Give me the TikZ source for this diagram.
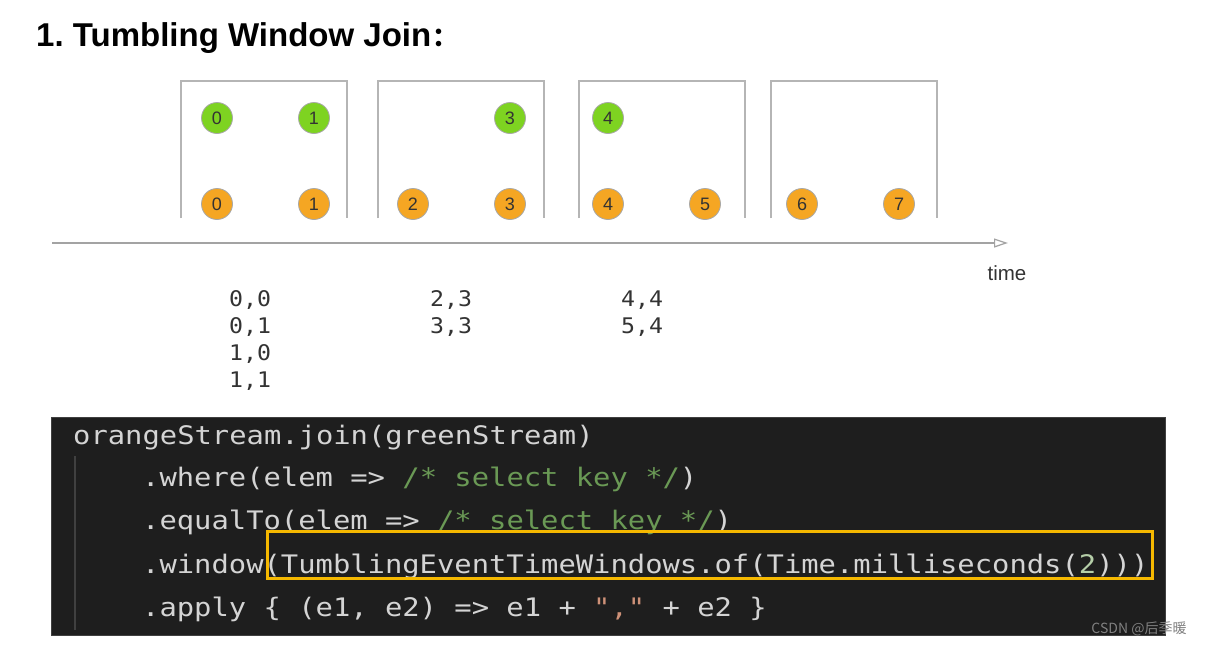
\documentclass[tikz,border=0pt]{standalone}
\usepackage{fontspec}
\setmainfont{Liberation Sans}
\newfontfamily\cjk{Noto Sans CJK SC}
\newfontfamily\codefont[FakeStretch=1.13]{DejaVu Sans Mono}
\newfontfamily\resfont[FakeStretch=1.08]{DejaVu Sans Mono}
\usetikzlibrary{arrows.meta}
\frenchspacing
\definecolor{grn}{HTML}{7ED321}
\definecolor{org}{HTML}{F5A623}
\definecolor{ringgray}{HTML}{A8A8A8}
\definecolor{wingray}{HTML}{B5B5B5}
\definecolor{digit}{HTML}{333333}
\definecolor{codebg}{HTML}{1E1E1E}
\definecolor{codefg}{HTML}{D4D4D4}
\definecolor{cmt}{HTML}{6A9955}
\definecolor{strc}{HTML}{CE9178}
\definecolor{numc}{HTML}{B5CEA8}
\definecolor{hilite}{HTML}{F5B800}
\definecolor{guide}{HTML}{404040}
\definecolor{restext}{HTML}{333333}
\tikzset{
  ball/.style={circle, minimum size=31pt, inner sep=0pt, draw=ringgray, line width=0.8pt,
    text=digit, font=\fontsize{18}{18}\selectfont},
  gball/.style={ball, fill=grn},
  oball/.style={ball, fill=org},
  winbox/.style={draw=wingray, line width=1.3pt},
  axisline/.style={draw=wingray!90!black, line width=1.2pt, -{Triangle[open, length=14pt, width=9pt]}},
  restxt/.style={anchor=base west, inner sep=0pt, text=restext, font=\resfont\fontsize{21.5}{21.5}\selectfont},
  codeline/.style={anchor=base west, inner sep=0pt, text=codefg, font=\codefont\fontsize{25.5}{25.5}\selectfont},
}
\begin{document}
\begin{tikzpicture}[x=1pt,y=-1pt]
\useasboundingbox (0,0) rectangle (1205,646);
\fill[white] (0,0) rectangle (1205,646);

% title
\node[anchor=base west, inner sep=0pt, font=\fontsize{33}{33}\selectfont\bfseries] (title) at (36,46) {1. Tumbling Window Join\hspace{1pt}{\cjk\bfseries\fontsize{26}{26}\selectfont ：}};

% windows
\foreach \x in {181,378,579,771}{
  \draw[winbox] (\x,218) -- (\x,81) -- (\x+166,81) -- (\x+166,218);
}

% green stream
\node[gball] (g0) at (217,118) {0};
\node[gball] (g1) at (314,118) {1};
\node[gball] (g3) at (510,118) {3};
\node[gball] (g4) at (608,118) {4};
% orange stream
\node[oball] (o0) at (217,204) {0};
\node[oball] (o1) at (314,204) {1};
\node[oball] (o2) at (413,204) {2};
\node[oball] (o3) at (510,204) {3};
\node[oball] (o4) at (608,204) {4};
\node[oball] (o5) at (705,204) {5};
\node[oball] (o6) at (802,204) {6};
\node[oball] (o7) at (899,204) {7};

% time axis
\coordinate (t0) at (52,243);
\coordinate (t1) at (1008,243);
\draw[axisline] (t0) -- (t1);
\node[anchor=base, inner sep=0pt, text=digit, font=\fontsize{20.5}{20.5}\selectfont] (time) at (1007,280) {time};

% results
\node[restxt] (r00) at (229,306) {0,0};
\node[restxt] (r01) at (229,333) {0,1};
\node[restxt] (r10) at (229,360) {1,0};
\node[restxt] (r11) at (229,387) {1,1};
\node[restxt] (r23) at (430,306) {2,3};
\node[restxt] (r33) at (430,333) {3,3};
\node[restxt] (r44) at (621,306) {4,4};
\node[restxt] (r54) at (621,333) {5,4};

% code block
\filldraw[fill=codebg, draw=guide, line width=0.8pt] (51,417) rectangle (1165,635);
\draw[guide, line width=1.6pt] (75,456) -- (75,630);
\node[codeline] (c1) at (73,444) {orangeStream.join(greenStream)};
\node[codeline] (c2) at (142,486) {.where(elem => \textcolor{cmt}{/* select key */})};
\node[codeline] (c3) at (142,529) {.equalTo(elem => \textcolor{cmt}{/* select key */})};
\node[codeline] (c4) at (142,573) {.window(TumblingEventTimeWindows.of(Time.milliseconds(\textcolor{numc}{2})))};
\node[codeline] (c5) at (142,616) {.apply \{ (e1, e2) => e1 + \textcolor{strc}{","} + e2 \}};
\draw[hilite, line width=3pt] (267,531) rectangle (1152,578);

% watermark
\node[anchor=center, inner sep=0pt, text=black!50, font=\cjk\fontsize{14}{14}\selectfont] (wm) at (1139,629) {CSDN @后季暖};
\end{tikzpicture}
\end{document}
